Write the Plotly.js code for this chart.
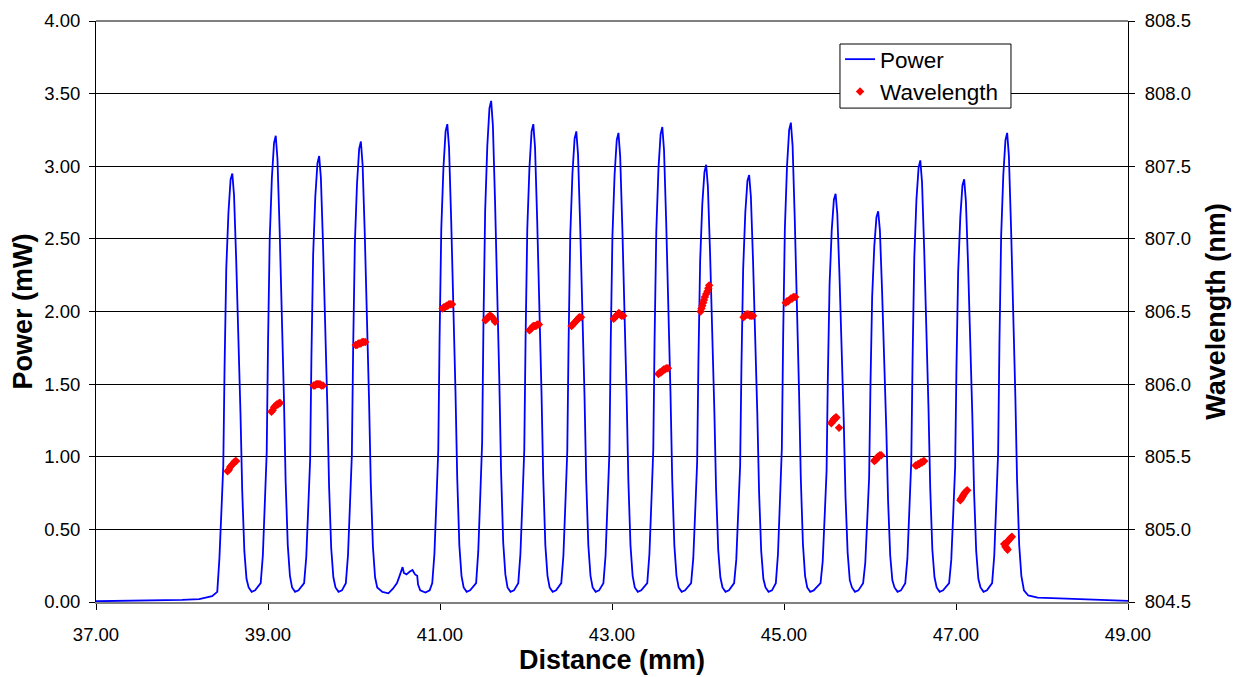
<!DOCTYPE html>
<html><head><meta charset="utf-8">
<script src="https://cdn.plot.ly/plotly-3.0.1.min.js"></script>
<style>html,body{margin:0;padding:0;background:#fff}#chart{width:1243px;height:677px}</style>
</head><body><div id="chart"></div>
<script>
// Power (mW) vs distance (mm)
const powerX = [
  37.00, 37.50, 38.00, 38.20, 38.35, 38.41,
  38.435, 38.46, 38.48, 38.495, 38.515, 38.54, 38.565, 38.585, 38.605, 38.63, 38.655, 38.68, 38.70, 38.725, 38.75, 38.775, 38.81, 38.85,
  38.915, 38.94, 38.965, 38.985, 39.00, 39.02, 39.045, 39.07, 39.09, 39.11, 39.135, 39.16, 39.185, 39.205, 39.23, 39.255, 39.28, 39.315, 39.355,
  39.42, 39.445, 39.47, 39.49, 39.505, 39.525, 39.55, 39.575, 39.595, 39.615, 39.64, 39.665, 39.69, 39.71, 39.735, 39.76, 39.785, 39.82, 39.86,
  39.905, 39.93, 39.955, 39.975, 39.99, 40.01, 40.035, 40.06, 40.08, 40.10, 40.125, 40.15, 40.175, 40.195, 40.22, 40.245,
  40.27, 40.33, 40.40, 40.45, 40.50, 40.53, 40.565, 40.58, 40.61, 40.65, 40.68, 40.71, 40.735, 40.745, 40.77, 40.83, 40.88,
  40.91, 40.935, 40.96, 40.98, 40.995, 41.015, 41.04, 41.065, 41.085, 41.105, 41.13, 41.155, 41.18, 41.20, 41.225, 41.25, 41.275, 41.31, 41.35,
  41.42, 41.445, 41.47, 41.49, 41.505, 41.525, 41.55, 41.575, 41.595, 41.615, 41.64, 41.665, 41.69, 41.71, 41.735, 41.76, 41.785, 41.82, 41.86,
  41.91, 41.935, 41.96, 41.98, 41.995, 42.015, 42.04, 42.065, 42.085, 42.105, 42.13, 42.155, 42.18, 42.20, 42.225, 42.25, 42.275, 42.31, 42.35,
  42.41, 42.435, 42.46, 42.48, 42.495, 42.515, 42.54, 42.565, 42.585, 42.605, 42.63, 42.655, 42.68, 42.70, 42.725, 42.75, 42.775, 42.81, 42.85,
  42.90, 42.925, 42.95, 42.97, 42.985, 43.005, 43.03, 43.055, 43.075, 43.095, 43.12, 43.145, 43.17, 43.19, 43.215, 43.24, 43.265, 43.30, 43.34,
  43.41, 43.435, 43.46, 43.48, 43.495, 43.515, 43.54, 43.565, 43.585, 43.605, 43.63, 43.655, 43.68, 43.70, 43.725, 43.75, 43.775, 43.81, 43.85,
  43.92, 43.945, 43.97, 43.99, 44.005, 44.025, 44.05, 44.075, 44.095, 44.115, 44.14, 44.165, 44.19, 44.21, 44.235, 44.26, 44.285, 44.32, 44.36,
  44.42, 44.445, 44.47, 44.49, 44.505, 44.525, 44.55, 44.575, 44.595, 44.615, 44.64, 44.665, 44.69, 44.71, 44.735, 44.76, 44.785, 44.82, 44.86,
  44.905, 44.93, 44.955, 44.975, 44.99, 45.01, 45.035, 45.06, 45.08, 45.10, 45.125, 45.15, 45.175, 45.195, 45.22, 45.245, 45.27, 45.305, 45.345,
  45.425, 45.45, 45.475, 45.495, 45.51, 45.53, 45.555, 45.58, 45.60, 45.62, 45.645, 45.67, 45.695, 45.715, 45.74, 45.765, 45.79, 45.825, 45.865,
  45.92, 45.945, 45.97, 45.99, 46.005, 46.025, 46.05, 46.075, 46.095, 46.115, 46.14, 46.165, 46.19, 46.21, 46.235, 46.26, 46.285, 46.32, 46.36,
  46.41, 46.435, 46.46, 46.48, 46.495, 46.515, 46.54, 46.565, 46.585, 46.605, 46.63, 46.655, 46.68, 46.70, 46.725, 46.75, 46.775, 46.81, 46.85,
  46.92, 46.945, 46.97, 46.99, 47.005, 47.025, 47.05, 47.075, 47.095, 47.115, 47.14, 47.165, 47.19, 47.21, 47.235, 47.26, 47.285, 47.32, 47.36,
  47.42, 47.445, 47.47, 47.49, 47.505, 47.525, 47.55, 47.575, 47.595, 47.615, 47.64, 47.665, 47.69, 47.71, 47.735, 47.76,
  47.79, 47.84, 47.95, 48.20, 48.50, 48.80, 49.00
];
const powerMW = [
  0.005, 0.008, 0.015, 0.02, 0.04, 0.07,
  0.30, 0.65, 0.94, 1.62, 2.30, 2.68, 2.91, 2.95, 2.80, 2.36, 1.89, 1.30, 0.77, 0.35, 0.16, 0.10, 0.07, 0.08,
  0.13, 0.32, 0.71, 1.03, 1.77, 2.50, 2.92, 3.16, 3.21, 3.05, 2.57, 2.05, 1.41, 0.83, 0.39, 0.18, 0.10, 0.07, 0.08,
  0.13, 0.31, 0.68, 0.98, 1.69, 2.39, 2.79, 3.02, 3.07, 2.92, 2.46, 1.96, 1.35, 0.80, 0.37, 0.17, 0.10, 0.07, 0.08,
  0.13, 0.32, 0.70, 1.01, 1.74, 2.47, 2.88, 3.12, 3.17, 3.01, 2.54, 2.03, 1.39, 0.82, 0.38, 0.17,
  0.10, 0.07, 0.06, 0.09, 0.13, 0.18, 0.24, 0.20, 0.19, 0.21, 0.22, 0.19, 0.18, 0.12, 0.08, 0.065, 0.08,
  0.13, 0.33, 0.72, 1.05, 1.81, 2.57, 2.99, 3.24, 3.29, 3.13, 2.63, 2.11, 1.45, 0.86, 0.39, 0.18, 0.10, 0.07, 0.08,
  0.13, 0.35, 0.76, 1.10, 1.90, 2.69, 3.14, 3.40, 3.45, 3.28, 2.76, 2.21, 1.52, 0.90, 0.41, 0.19, 0.10, 0.07, 0.08,
  0.13, 0.33, 0.72, 1.05, 1.81, 2.57, 2.99, 3.24, 3.29, 3.13, 2.63, 2.11, 1.45, 0.86, 0.39, 0.18, 0.10, 0.07, 0.08,
  0.13, 0.32, 0.71, 1.04, 1.78, 2.53, 2.95, 3.19, 3.24, 3.08, 2.59, 2.07, 1.43, 0.84, 0.39, 0.18, 0.10, 0.07, 0.08,
  0.13, 0.32, 0.71, 1.03, 1.78, 2.52, 2.94, 3.18, 3.23, 3.07, 2.58, 2.07, 1.42, 0.84, 0.39, 0.18, 0.10, 0.07, 0.08,
  0.13, 0.33, 0.72, 1.05, 1.80, 2.55, 2.98, 3.22, 3.27, 3.11, 2.62, 2.09, 1.44, 0.85, 0.39, 0.18, 0.10, 0.07, 0.08,
  0.13, 0.30, 0.66, 0.96, 1.66, 2.35, 2.74, 2.96, 3.01, 2.86, 2.41, 1.93, 1.32, 0.78, 0.36, 0.17, 0.10, 0.07, 0.08,
  0.13, 0.29, 0.65, 0.94, 1.62, 2.29, 2.68, 2.90, 2.94, 2.79, 2.35, 1.88, 1.29, 0.76, 0.35, 0.16, 0.10, 0.07, 0.08,
  0.13, 0.33, 0.73, 1.06, 1.82, 2.57, 3.00, 3.25, 3.30, 3.14, 2.64, 2.11, 1.45, 0.86, 0.40, 0.18, 0.10, 0.07, 0.08,
  0.13, 0.28, 0.62, 0.90, 1.55, 2.19, 2.56, 2.77, 2.81, 2.67, 2.25, 1.80, 1.24, 0.73, 0.34, 0.15, 0.10, 0.07, 0.08,
  0.13, 0.27, 0.59, 0.86, 1.48, 2.10, 2.45, 2.65, 2.69, 2.56, 2.15, 1.72, 1.18, 0.70, 0.32, 0.15, 0.10, 0.07, 0.08,
  0.13, 0.30, 0.67, 0.97, 1.67, 2.37, 2.77, 2.99, 3.04, 2.89, 2.43, 1.95, 1.34, 0.79, 0.36, 0.17, 0.10, 0.07, 0.08,
  0.13, 0.29, 0.64, 0.93, 1.60, 2.27, 2.65, 2.87, 2.91, 2.76, 2.33, 1.86, 1.28, 0.76, 0.35, 0.16, 0.10, 0.07, 0.08,
  0.13, 0.32, 0.71, 1.03, 1.78, 2.52, 2.94, 3.18, 3.23, 3.07, 2.58, 2.07, 1.42, 0.84, 0.39, 0.18,
  0.08, 0.045, 0.03, 0.025, 0.02, 0.012, 0.008
];

// Wavelength (nm) points near each emitter peak
const wavelengthX = [
  38.53, 38.545, 38.56, 38.575, 38.59, 38.605, 38.62, 38.63,
  39.04, 39.055, 39.07, 39.085, 39.10, 39.115, 39.13, 39.14,
  39.53, 39.545, 39.56, 39.575, 39.59, 39.605, 39.62, 39.64,
  40.02, 40.035, 40.05, 40.065, 40.08, 40.095, 40.11, 40.13,
  41.03, 41.045, 41.06, 41.075, 41.09, 41.105, 41.12, 41.14,
  41.53, 41.545, 41.56, 41.575, 41.59, 41.605, 41.62, 41.64,
  42.04, 42.055, 42.07, 42.085, 42.10, 42.115, 42.13, 42.15,
  42.53, 42.545, 42.56, 42.575, 42.59, 42.605, 42.62, 42.64,
  43.02, 43.035, 43.05, 43.065, 43.08, 43.095, 43.11, 43.13,
  43.54, 43.555, 43.57, 43.585, 43.60, 43.615, 43.63, 43.65,
  44.03, 44.04, 44.05, 44.06, 44.07, 44.08, 44.095, 44.11, 44.12, 44.13,
  44.53, 44.545, 44.56, 44.575, 44.59, 44.605, 44.62, 44.64,
  45.02, 45.035, 45.05, 45.065, 45.08, 45.095, 45.11, 45.13,
  45.55, 45.56, 45.57, 45.58, 45.59, 45.60, 45.61, 45.64,
  46.05, 46.06, 46.07, 46.08, 46.09, 46.10, 46.115, 46.13,
  46.53, 46.545, 46.56, 46.575, 46.59, 46.605, 46.62, 46.63,
  47.05, 47.06, 47.07, 47.08, 47.09, 47.10, 47.115, 47.13,
  47.65, 47.635, 47.62, 47.605, 47.59, 47.575, 47.56, 47.575, 47.59, 47.60
];
const wavelengthNm = [
  805.40, 805.41, 805.43, 805.44, 805.45, 805.46, 805.47, 805.47,
  805.81, 805.82, 805.84, 805.85, 805.86, 805.86, 805.87, 805.87,
  805.99, 805.99, 806.00, 806.00, 806.00, 806.00, 805.99, 805.99,
  806.27, 806.27, 806.28, 806.28, 806.28, 806.29, 806.29, 806.29,
  806.52, 806.53, 806.53, 806.54, 806.54, 806.55, 806.55, 806.55,
  806.44, 806.45, 806.46, 806.47, 806.47, 806.46, 806.45, 806.43,
  806.37, 806.38, 806.39, 806.40, 806.40, 806.40, 806.41, 806.41,
  806.40, 806.41, 806.42, 806.43, 806.44, 806.45, 806.46, 806.46,
  806.45, 806.46, 806.47, 806.48, 806.49, 806.48, 806.47, 806.47,
  806.07, 806.08, 806.08, 806.09, 806.10, 806.10, 806.11, 806.11,
  806.50, 806.52, 806.54, 806.56, 806.58, 806.60, 806.62, 806.64, 806.66, 806.68,
  806.46, 806.47, 806.48, 806.48, 806.48, 806.47, 806.47, 806.47,
  806.56, 806.57, 806.57, 806.58, 806.59, 806.59, 806.60, 806.60,
  805.73, 805.74, 805.75, 805.76, 805.76, 805.77, 805.77, 805.70,
  805.47, 805.48, 805.48, 805.49, 805.50, 805.50, 805.51, 805.51,
  805.44, 805.44, 805.45, 805.45, 805.46, 805.46, 805.47, 805.47,
  805.20, 805.21, 805.22, 805.23, 805.24, 805.25, 805.26, 805.27,
  804.95, 804.94, 804.93, 804.92, 804.91, 804.90, 804.90, 804.88, 804.87, 804.86
];

const xTickVals = [37, 39, 41, 43, 45, 47, 49];
const xTickText = ["37.00", "39.00", "41.00", "43.00", "45.00", "47.00", "49.00"];

const FONT = "Liberation Sans, Arial, sans-serif";

const traces = [
  {
    x: powerX, y: powerMW, name: "Power", type: "scatter", mode: "lines",
    line: {color: "#0000ff", width: 1.8}, yaxis: "y"
  },
  {
    x: wavelengthX, y: wavelengthNm, name: "Wavelength", type: "scatter", mode: "markers",
    marker: {color: "#ff0000", symbol: "diamond", size: 6.5}, yaxis: "y2"
  }
];

const layout = {
  width: 1243, height: 677,
  margin: {l: 96, r: 115, t: 21, b: 75, pad: 0},
  paper_bgcolor: "#ffffff", plot_bgcolor: "#ffffff",
  font: {family: FONT, color: "#000", size: 18},
  showlegend: true,
  legend: {
    x: 0.721, y: 0.9707, xanchor: "left", yanchor: "top",
    bgcolor: "rgba(0,0,0,0)", borderwidth: 0,
    font: {family: FONT, size: 22.5, color: "#000"}, itemwidth: 30
  },
  xaxis: {
    range: [37, 49], tickvals: xTickVals, ticktext: xTickText,
    showgrid: false, zeroline: false,
    showline: true, linecolor: "#808080", linewidth: 2,
    ticks: "outside", ticklen: 6, tickcolor: "#000", tickwidth: 1,
    ticklabelstandoff: 9,
    tickfont: {family: FONT, size: 18.5, color: "#000"},
    title: {text: "Distance (mm)", standoff: 6, font: {family: FONT, size: 27, weight: "bold", color: "#000"}}
  },
  yaxis: {
    range: [0, 4], dtick: 0.5, tick0: 0, tickformat: ".2f",
    showgrid: true, gridcolor: "#000", gridwidth: 1, zeroline: false,
    showline: true, linecolor: "#000", linewidth: 1,
    ticks: "outside", ticklen: 6, tickcolor: "#000",
    ticklabelstandoff: 5,
    tickfont: {family: FONT, size: 18.5, color: "#000"},
    title: {text: "Power (mW)", standoff: 3, font: {family: FONT, size: 27, weight: "bold", color: "#000"}}
  },
  yaxis2: {
    range: [804.5, 808.5], dtick: 0.5, tick0: 804.5, tickformat: ".1f",
    overlaying: "y", side: "right", anchor: "x",
    showgrid: false, zeroline: false,
    showline: true, linecolor: "#000", linewidth: 1,
    ticks: "outside", ticklen: 6, tickcolor: "#000",
    ticklabelstandoff: 6,
    tickfont: {family: FONT, size: 18.5, color: "#000"},
    title: {text: "Wavelength (nm)", standoff: 16, font: {family: FONT, size: 27, weight: "bold", color: "#000"}}
  },
  shapes: [
    {type: "line", xref: "paper", yref: "paper", x0: 0, x1: 1, y0: 1, y1: 1, line: {color: "#000", width: 1}},
    {type: "rect", xref: "paper", yref: "paper", x0: 0.7209, x1: 0.8866, y0: 0.8501, y1: 0.9604,
     fillcolor: "#ffffff", line: {color: "#000", width: 1}, layer: "above"}
  ]
};

Plotly.newPlot("chart", traces, layout, {displayModeBar: false, staticPlot: true});
</script></body></html>
